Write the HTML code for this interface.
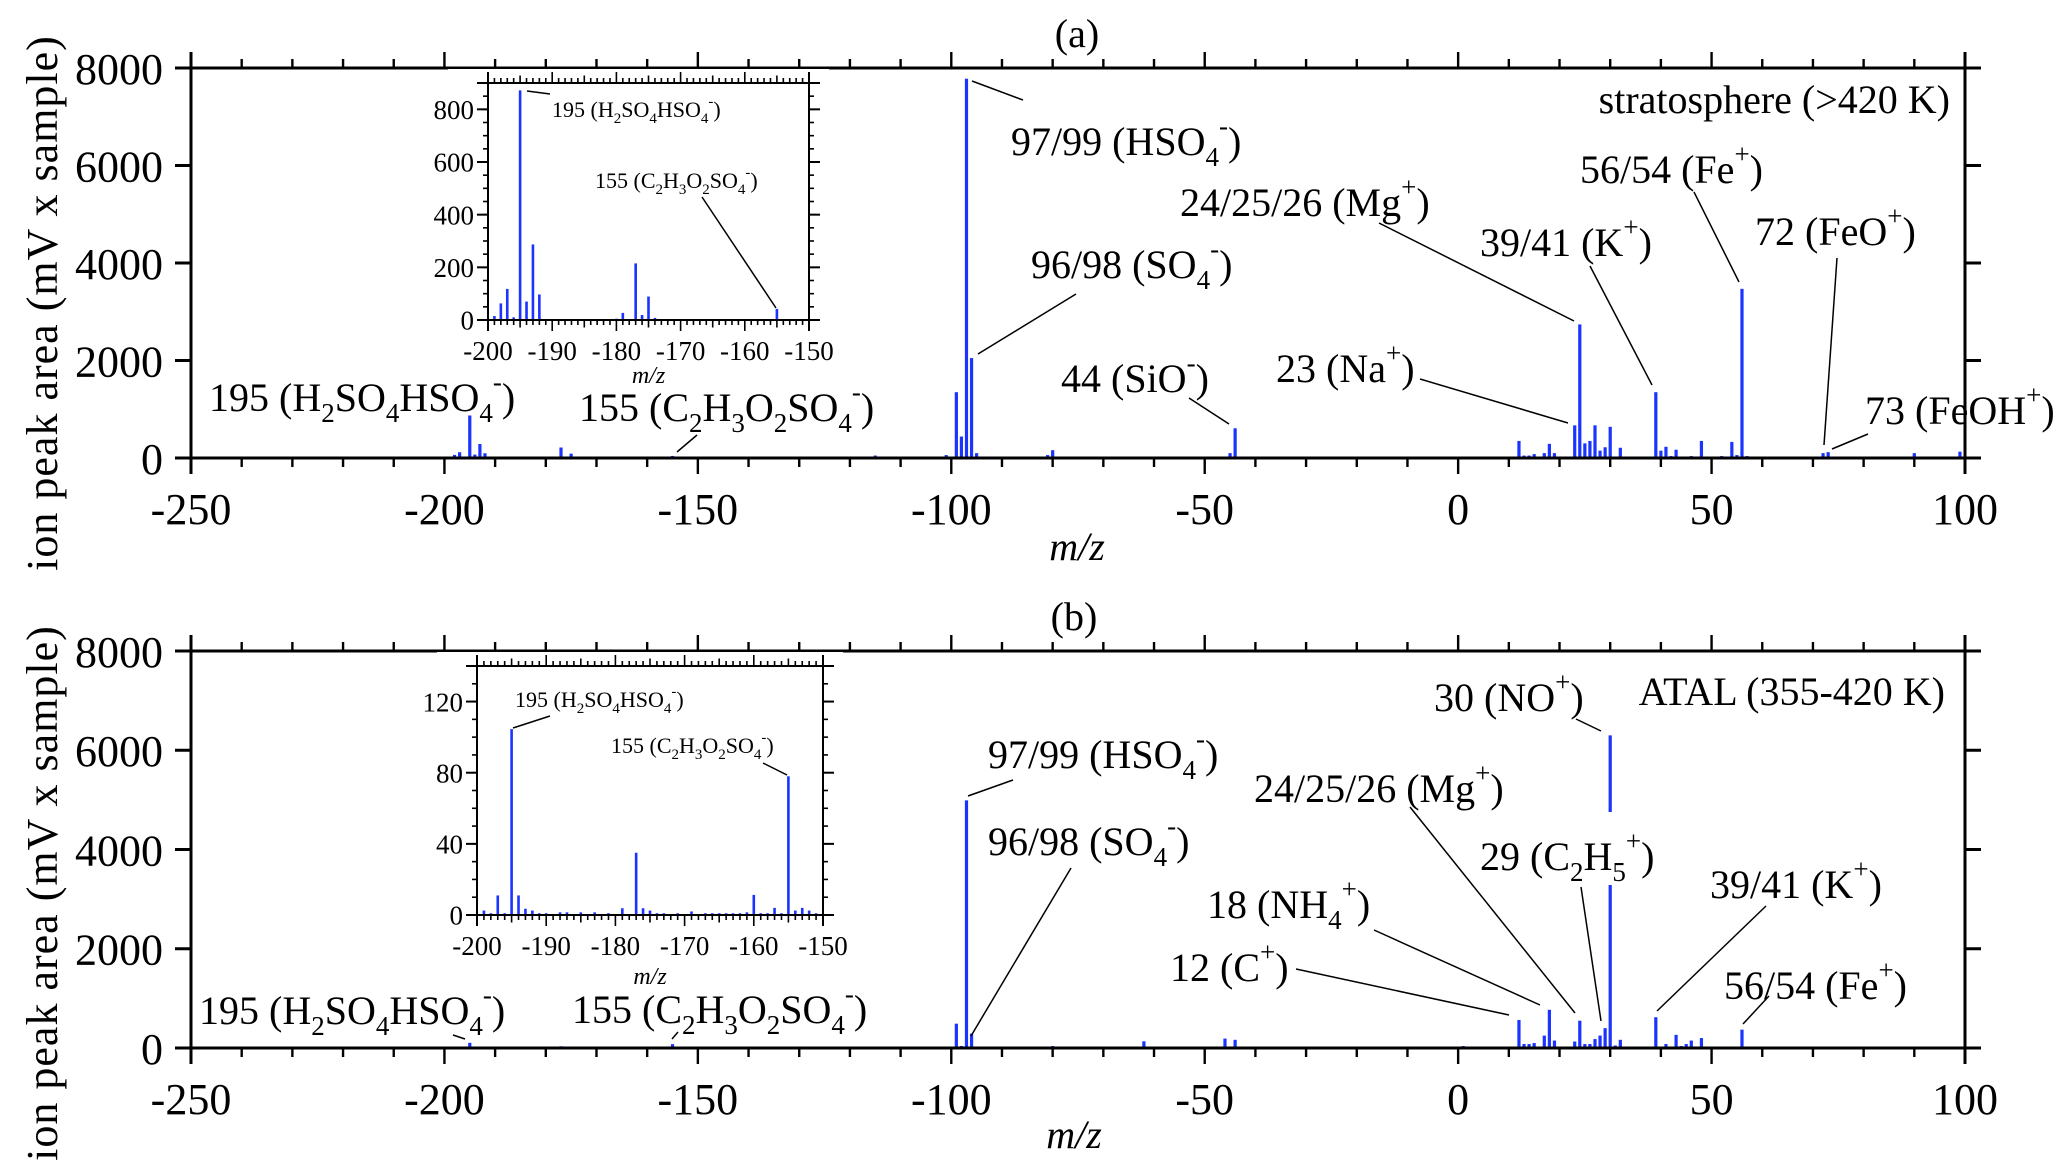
<!DOCTYPE html>
<html><head><meta charset="utf-8">
<style>
html,body{margin:0;padding:0;background:#fff;}
svg{display:block;font-family:"Liberation Serif","Times New Roman",serif;}
svg text{font-family:"Liberation Serif","Times New Roman",serif;}
</style></head>
<body>
<svg id="fig" width="2067" height="1175" viewBox="0 0 2067 1175" xmlns="http://www.w3.org/2000/svg"></svg>
<script>
// ---- Panel (a) data: stratosphere ----
const mzA = [-199,-198,-197,-196,-195,-194,-193,-192,-180,-179,-177,-176,-175,-174,-169,-155,-115,-101,-99,-98,-97,-96,-95,-81,-80,-64,-62,-45,-44,-16,1,12,13,14,15,17,18,19,23,24,25,26,27,28,29,30,32,39,40,41,42,43,44,45,46,48,52,54,55,56,57,72,73,90,91,99];
const valA = [15,63,118,10,872,70,287,97,5,27,215,19,89,8,3,42,50,60,1350,440,7780,2050,100,60,160,20,30,100,610,20,20,350,50,50,80,100,290,100,670,2740,300,350,670,150,220,640,210,1350,150,230,40,170,30,30,40,350,40,330,60,3470,40,100,120,100,30,130];
// ---- Panel (b) data: ATAL ----
const mzB = [-199,-198,-197,-196,-195,-194,-193,-192,-191,-190,-188,-187,-185,-183,-181,-179,-177,-176,-175,-174,-173,-171,-169,-167,-166,-165,-164,-163,-162,-161,-160,-159,-158,-157,-156,-155,-154,-153,-152,-151,-125,-99,-98,-97,-96,-80,-62,-46,-44,-26,-16,1,12,13,14,15,17,18,19,23,24,25,26,27,28,29,30,31,32,36,37,39,40,41,43,44,45,46,48,54,56,99];
const valB = [2.5,1,11,1,104.5,11,3.5,2.5,1,1,1.5,1.5,1.5,1.5,1,3.8,35,3.8,2.5,1,1,1,2,1,1,1,1,1,1,1.5,11.3,1,1,4,1,78,2.5,4,2.5,1,10,490,40,4990,290,40,135,190,165,10,10,40,565,80,80,100,250,770,150,130,550,80,80,180,250,400,6300,50,165,20,20,620,30,80,265,40,80,150,200,20,370,20];
// ---- tick labels ----
const mainXTicks = [-250,-200,-150,-100,-50,0,50,100];
const mainYTicks = [0,2000,4000,6000,8000];
const insetXTicks = [-200,-190,-180,-170,-160,-150];
const insetAYTicks = [0,200,400,600,800];
const insetBYTicks = [0,40,80,120];

const NS = "http://www.w3.org/2000/svg";
const FONT = '"Liberation Serif", "Times New Roman", serif';
const svg = document.getElementById('fig');
function mk(tag, attrs, parent){
  const e = document.createElementNS(NS, tag);
  for (const k in attrs) e.setAttribute(k, attrs[k]);
  if(tag==='text') e.setAttribute('font-family', FONT);
  (parent||svg).appendChild(e);
  return e;
}
function line(g,x1,y1,x2,y2,w){ return mk('line',{x1:x1,y1:y1,x2:x2,y2:y2,stroke:'#000','stroke-width':w||2},g); }

// rich text: _x subscript, ^x superscript
function rich(g, x, y, str, size, anchor){
  const t = mk('text',{x:x,y:y,'font-size':size,fill:'#000','text-anchor':anchor||'start'},g);
  let i=0, buf='', pend=0;
  const small = Math.round(size*0.68);
  function flush(){
    if(buf){ const a={}; if(pend) a.dy=pend; const s=mk('tspan',a,t); s.textContent=buf; buf=''; pend=0; }
  }
  while(i<str.length){
    const c=str[i];
    if(c==='_'||c==='^'){
      flush();
      const ch=str[i+1];
      const dy = c==='_' ? size*0.28 : -size*0.5;
      const s=mk('tspan',{dy:pend+dy,'font-size':small},t); s.textContent=ch;
      pend=-dy;
      i+=2; continue;
    }
    buf+=c; i++;
  }
  flush();
  return t;
}

function panel(cfg){
  const g = mk('g',{});
  
  
  const X = v => cfg.xl + (v - cfg.xmin)/(cfg.xmax-cfg.xmin)*(cfg.xr-cfg.xl);
  const Y = v => cfg.y0 - v/cfg.ymax*(cfg.y0-cfg.ytop);
  const bg = mk('g',{},g);
  
  
  for(let i=0;i<cfg.mz.length;i++){
    const m=cfg.mz[i];
    if(m<cfg.xmin||m>cfg.xmax) continue;
    const h = cfg.y0 - Y(cfg.val[i]);
    const r = mk('rect',{x:X(m)-cfg.bw/2,y:Y(cfg.val[i]),width:cfg.bw,height:Math.max(h,1),fill:'#1a33ff'},bg);
    
    
  }
  const tl = cfg.tick, tm = cfg.tickMinor;
  line(g, cfg.xl - tl, cfg.y0, cfg.xr + tl, cfg.y0, cfg.lw);
  line(g, cfg.xl - tl, cfg.ytop, cfg.xr + tl, cfg.ytop, cfg.lw);
  line(g, cfg.xl, cfg.ytop - tl, cfg.xl, cfg.y0 + tl, cfg.lw);
  line(g, cfg.xr, cfg.ytop - tl, cfg.xr, cfg.y0 + tl, cfg.lw);
  for(let v=cfg.xmin; v<=cfg.xmax; v+=cfg.xminor){
    const major = (Math.round(v - cfg.xmin) % cfg.xmajor)===0;
    const mid = cfg.xmid && (Math.round(v - cfg.xmin) % cfg.xmid)===0;
    const len = major ? tl : (mid ? tm*1.5 : tm);
    line(g, X(v), cfg.ytop, X(v), cfg.ytop-len, cfg.lw*0.8);
    line(g, X(v), cfg.y0, X(v), cfg.y0+len, cfg.lw*0.8);
  }
  cfg.xticks.forEach(v=>{
    const t = mk('text',{x:X(v),y:cfg.y0+cfg.xlabOff,'font-size':cfg.tfs,'text-anchor':'middle',fill:'#000'},g);
    t.textContent = v;
    
    
  });
  if(cfg.yminor){
    for(let v=0; v<=cfg.ymax+1e-6; v+=cfg.yminor){
      line(g, cfg.xl, Y(v), cfg.xl-tm, Y(v), cfg.lw*0.8);
      line(g, cfg.xr, Y(v), cfg.xr+tm, Y(v), cfg.lw*0.8);
    }
  }
  cfg.yticks.forEach(v=>{
    line(g, cfg.xl, Y(v), cfg.xl-tl, Y(v), cfg.lw);
    line(g, cfg.xr, Y(v), cfg.xr+tl, Y(v), cfg.lw);
    const t = mk('text',{x:cfg.xl-cfg.ylabOff,y:Y(v)+cfg.tfs*0.36,'font-size':cfg.tfs,'text-anchor':'end',fill:'#000'},g);
    t.textContent = v;
    
    
  });
  return {g,X,Y};
}

function mainPanel(name, y0, ytop, mz, val){
  return panel({name:name, xl:191, xr:1965, xmin:-250, xmax:100, y0:y0, ytop:ytop, ymax:8000,
    mz:mz, val:val, bw:3.2, tick:16, tickMinor:9, lw:3, xminor:10, xmajor:50,
    xticks:mainXTicks, yticks:mainYTicks, tfs:44, xlabOff:66, ylabOff:28});
}
function inset(name, xl, xr, y0, ytop, ymax, mz, val, yt, yminor){
  mk('rect',{x:xl-40,y:ytop-14,width:xr-xl+60,height:y0-ytop+90,fill:'#fff'});
  return panel({name:name, xl:xl, xr:xr, xmin:-200, xmax:-150, y0:y0, ytop:ytop, ymax:ymax,
    mz:mz, val:val, bw:2.6, tick:11, tickMinor:5, lw:2, xminor:1, xmajor:10, xmid:5,
    xticks:insetXTicks, yticks:yt, yminor:yminor, tfs:27, xlabOff:40, ylabOff:14});
}

const A = mainPanel('panel-a', 458, 68, mzA, valA);
const IA = inset('inset-a', 488, 809, 320, 83, 900, mzA, valA, insetAYTicks, 50);
const B = mainPanel('panel-b', 1048, 651, mzB, valB);
const IB = inset('inset-b', 477, 823, 915, 666, 140, mzB, valB, insetBYTicks, 10);

mk('rect',{x:B.X(30)-4,y:812,width:8,height:73,fill:'#fff'});

function plain(x,y,str,size,opts){
  const t = mk('text',Object.assign({x:x,y:y,'font-size':size,fill:'#000'},opts||{}));
  t.textContent = str; return t;
}
let t;
t = plain(1077,47,'(a)',40,{'text-anchor':'middle'});


t = plain(1074,630,'(b)',40,{'text-anchor':'middle'});


t = plain(1077,560,'m/z',40,{'text-anchor':'middle','font-style':'italic'});


t = plain(1074,1148,'m/z',40,{'text-anchor':'middle','font-style':'italic'});


t = plain(0,0,'ion peak area (mV x sample)',44,{'text-anchor':'middle',transform:'translate(57,303) rotate(-90)','letter-spacing':'1'});


t = plain(0,0,'ion peak area (mV x sample)',44,{'text-anchor':'middle',transform:'translate(57,893) rotate(-90)','letter-spacing':'1'});


t = plain(1950,113,'stratosphere (>420 K)',40,{'text-anchor':'end'});


t = plain(1945,705,'ATAL (355-420 K)',40,{'text-anchor':'end'});


t = plain(IA.X(-175),383,'m/z',24,{'text-anchor':'middle','font-style':'italic'});


t = plain(IB.X(-175),984,'m/z',24,{'text-anchor':'middle','font-style':'italic'});



const notes = [
 ['label-hso4-a','97/99 (HSO_4^-)',1011,155,40,972,81,1023,100],
 ['label-so4-a','96/98 (SO_4^-)',1031,278,40,978,354,1076,294],
 ['label-sio-a','44 (SiO^-)',1061,392,40,1189,398,1229,424],
 ['label-na-a','23 (Na^+)',1276,382,40,1420,379,1568,423],
 ['label-mg-a','24/25/26 (Mg^+)',1180,216,40,1379,223,1574,321],
 ['label-k-a','39/41 (K^+)',1480,256,40,1590,266,1652,385],
 ['label-fe-a','56/54 (Fe^+)',1580,183,40,1694,192,1739,282],
 ['label-feo-a','72 (FeO^+)',1755,245,40,1837,258,1824,445],
 ['label-feoh-a','73 (FeOH^+)',1865,424,40,1868,434,1832,449],
 ['label-195-a','195 (H_2SO_4HSO_4^-)',209,411,40,0,0,0,0],
 ['label-155-a','155 (C_2H_3O_2SO_4^-)',579,421,40,697,435,677,452],
 ['inset-a-label-195','195 (H_2SO_4HSO_4^-)',552,117,22,527,91,550,94],
 ['inset-a-label-155','155 (C_2H_3O_2SO_4^-)',595,188,22,702,197,776,308],
 ['label-no-b','30 (NO^+)',1434,711,40,1576,719,1601,731],
 ['label-hso4-b','97/99 (HSO_4^-)',988,768,40,968,796,1013,780],
 ['label-so4-b','96/98 (SO_4^-)',988,855,40,1071,868,971,1036],
 ['label-mg-b','24/25/26 (Mg^+)',1254,802,40,1410,807,1575,1013],
 ['label-c2h5-b','29 (C_2H_5^+)',1480,870,40,1581,887,1601,1021],
 ['label-nh4-b','18 (NH_4^+)',1207,918,40,1374,930,1540,1005],
 ['label-c-b','12 (C^+)',1170,981,40,1296,969,1509,1015],
 ['label-k-b','39/41 (K^+)',1710,898,40,1766,906,1657,1011],
 ['label-fe-b','56/54 (Fe^+)',1724,999,40,1769,996,1743,1024],
 ['label-195-b','195 (H_2SO_4HSO_4^-)',199,1024,40,453,1035,465,1039],
 ['label-155-b','155 (C_2H_3O_2SO_4^-)',572,1023,40,678,1032,672,1039],
 ['inset-b-label-195','195 (H_2SO_4HSO_4^-)',515,707,22,513,728,550,716],
 ['inset-b-label-155','155 (C_2H_3O_2SO_4^-)',611,753,22,763,763,787,775]
];
notes.forEach(n=>{
  const tx = rich(svg, n[2], n[3], n[1], n[4]);
  
  
  if(n[5]||n[7]){
    const l = line(svg, n[5], n[6], n[7], n[8], 1.5);
    
    
  }
});
</script>
</body></html>
